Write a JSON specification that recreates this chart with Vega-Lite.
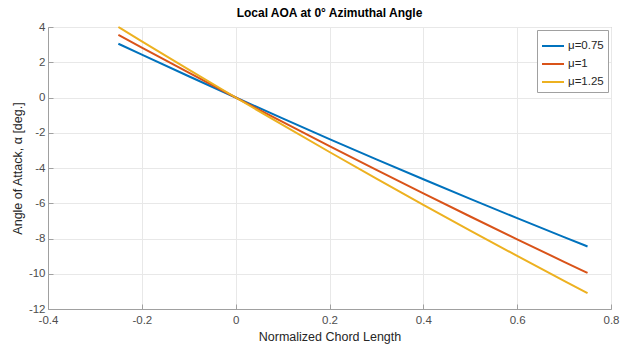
{
  "$schema": "https://vega.github.io/schema/vega-lite/v6.json",
  "autosize": "none",
  "padding": {"left": 48, "top": 27, "right": 13, "bottom": 41},
  "width": 563,
  "height": 282,
  "background": "white",
  "title": {"text": "Local AOA at 0° Azimuthal Angle", "font": "Liberation Sans", "fontSize": 12, "fontWeight": "bold", "color": "#000000", "anchor": "middle", "offset": 1},
  "config": {
    "view": {"stroke": "#a0a0a0", "strokeWidth": 1},
    "axis": {"labelFont": "Liberation Sans", "titleFont": "Liberation Sans", "labelFontSize": 11.5, "titleFontSize": 12.5, "labelColor": "#4d4d4d", "titleColor": "#262626", "titleFontWeight": "normal", "gridColor": "#e8e8e8", "domainColor": "#a0a0a0", "tickColor": "#a0a0a0"}
  },
  "data": {"values": [
    {"x": -0.25, "y": 3.05, "s": "μ=0.75"},
    {"x": -0.2, "y": 2.431, "s": "μ=0.75"},
    {"x": -0.1, "y": 1.206, "s": "μ=0.75"},
    {"x": 0, "y": 0, "s": "μ=0.75"},
    {"x": 0.1, "y": -1.188, "s": "μ=0.75"},
    {"x": 0.2, "y": -2.357, "s": "μ=0.75"},
    {"x": 0.3, "y": -3.507, "s": "μ=0.75"},
    {"x": 0.4, "y": -4.639, "s": "μ=0.75"},
    {"x": 0.5, "y": -5.752, "s": "μ=0.75"},
    {"x": 0.6, "y": -6.846, "s": "μ=0.75"},
    {"x": 0.7, "y": -7.922, "s": "μ=0.75"},
    {"x": 0.75, "y": -8.453, "s": "μ=0.75"},
    {"x": -0.25, "y": 3.55, "s": "μ=1"},
    {"x": -0.2, "y": 2.831, "s": "μ=1"},
    {"x": -0.1, "y": 1.406, "s": "μ=1"},
    {"x": 0, "y": 0, "s": "μ=1"},
    {"x": 0.1, "y": -1.388, "s": "μ=1"},
    {"x": 0.2, "y": -2.757, "s": "μ=1"},
    {"x": 0.3, "y": -4.107, "s": "μ=1"},
    {"x": 0.4, "y": -5.439, "s": "μ=1"},
    {"x": 0.5, "y": -6.752, "s": "μ=1"},
    {"x": 0.6, "y": -8.046, "s": "μ=1"},
    {"x": 0.7, "y": -9.322, "s": "μ=1"},
    {"x": 0.75, "y": -9.953, "s": "μ=1"},
    {"x": -0.25, "y": 4.0, "s": "μ=1.25"},
    {"x": -0.2, "y": 3.188, "s": "μ=1.25"},
    {"x": -0.1, "y": 1.582, "s": "μ=1.25"},
    {"x": 0, "y": 0, "s": "μ=1.25"},
    {"x": 0.1, "y": -1.558, "s": "μ=1.25"},
    {"x": 0.2, "y": -3.092, "s": "μ=1.25"},
    {"x": 0.3, "y": -4.602, "s": "μ=1.25"},
    {"x": 0.4, "y": -6.088, "s": "μ=1.25"},
    {"x": 0.5, "y": -7.55, "s": "μ=1.25"},
    {"x": 0.6, "y": -8.988, "s": "μ=1.25"},
    {"x": 0.7, "y": -10.402, "s": "μ=1.25"},
    {"x": 0.75, "y": -11.1, "s": "μ=1.25"}
  ]},
  "mark": {"type": "line", "strokeWidth": 2, "interpolate": "monotone"},
  "encoding": {
    "x": {"field": "x", "type": "quantitative", "scale": {"domain": [-0.4, 0.8], "nice": false},
      "axis": {"values": [-0.4, -0.2, 0, 0.2, 0.4, 0.6, 0.8], "format": "~g", "labelExpr": "replace(datum.label, '−', '-')", "title": "Normalized Chord Length", "tickSize": -5, "labelPadding": 10, "titlePadding": 5, "labelFlush": false}},
    "y": {"field": "y", "type": "quantitative", "scale": {"domain": [-12, 4], "nice": false},
      "axis": {"values": [-12, -10, -8, -6, -4, -2, 0, 2, 4], "labelExpr": "replace(datum.label, '−', '-')", "title": "Angle of Attack, α [deg.]", "tickSize": -5, "labelPadding": 8, "titlePadding": 4, "labelFlush": false}},
    "color": {"field": "s", "type": "nominal", "sort": ["μ=0.75", "μ=1", "μ=1.25"],
      "scale": {"domain": ["μ=0.75", "μ=1", "μ=1.25"], "range": ["#0072BD", "#D95319", "#EDB120"]},
      "legend": {"title": null, "orient": "top-right", "offset": 3, "strokeColor": "#a0a0a0", "fillColor": "white", "padding": 4, "symbolType": "stroke", "symbolSize": 484, "symbolStrokeWidth": 2, "labelOffset": 3, "labelFont": "Liberation Sans", "labelFontSize": 11.5, "labelColor": "#262626", "rowPadding": -7, "cornerRadius": 0}}
  }
}
